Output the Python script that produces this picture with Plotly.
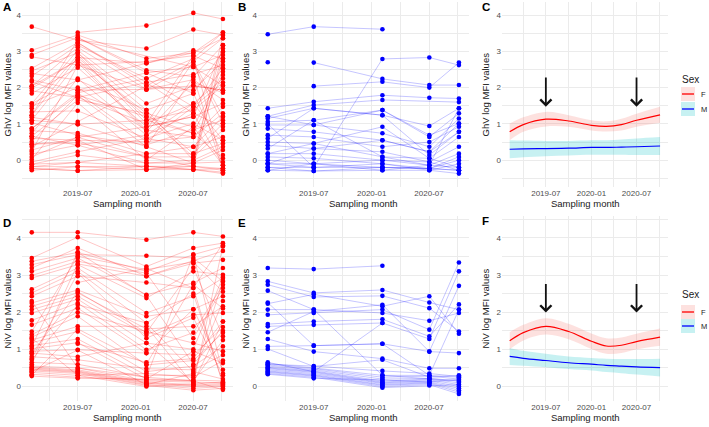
import plotly.graph_objects as go

# ---------------- data ----------------
sampling_dates = ['2019-02-05', '2019-07-01', '2020-02-04', '2020-07-02', '2020-10-04']
tick_vals = ['2019-07-01', '2020-01-01', '2020-07-01']
tick_text = ['2019-07', '2020-01', '2020-07']

# GhV, females (panel A): one row per individual, value at each sampling date
ghv_female = [
    [3.68, 3.31, 3.08, 3.60, 3.45], [None, 3.52, 3.71, 4.06, 3.89], [3.03, 3.45, 2.80, 2.96, 3.52],
    [2.90, 3.38, 2.48, 2.30, 3.17], [2.85, 2.62, 2.72, 2.88, 2.53], [2.53, 3.24, 2.05, 2.72, 3.36],
    [2.46, 2.96, 1.38, 1.84, 2.99], [2.39, 2.21, 2.67, 3.03, 2.80], [2.32, 3.17, 2.25, 1.47, 2.14],
    [2.21, 1.93, 2.41, 2.57, 2.90], [2.04, 3.11, 1.95, 2.22, 1.66], [1.98, 2.76, 1.29, 0.92, 2.44],
    [1.91, 1.73, 2.14, 2.37, 2.62], [1.84, 2.55, 0.92, 1.20, 3.08], [1.56, 3.03, 1.56, 2.05, 1.93],
    [1.49, 2.00, 0.83, 0.64, 1.29], [1.43, 2.90, 1.01, 1.56, 2.25], [1.33, 1.36, 0.60, 1.01, 0.55],
    [1.24, 2.83, 1.20, 0.74, 2.35], [1.18, 0.99, 1.10, 1.38, 2.05], [1.10, 2.69, 0.78, 2.14, 1.86],
    [1.03, 0.69, 0.42, 0.83, 1.10], [0.87, 1.86, 2.25, 2.80, 3.52], [0.81, 0.75, 0.18, 0.37, 1.20],
    [0.74, 2.25, 0.69, 1.29, 0.92], [0.66, 1.66, 1.29, 0.18, 0.46], [0.60, 0.55, 0.51, 0.64, 1.47],
    [0.51, 1.79, 0.37, -0.08, 0.28], [0.44, 0.48, 0.09, 0.09, 0.83], [0.37, 1.06, 2.05, 1.93, 2.72],
    [0.23, 2.62, 1.95, 2.64, 1.01], [0.17, 0.41, -0.08, 0.00, 0.37], [0.09, 0.63, 0.92, 1.20, 1.56],
    [0.02, 1.58, 0.00, 0.92, -0.14], [-0.05, 0.23, 0.60, 0.37, 0.64], [-0.11, -0.06, -0.17, -0.17, -0.23],
    [-0.18, -0.18, -0.17, -0.26, -0.33], [-0.23, -0.29, -0.26, -0.26, -0.37], [-0.28, -0.18, -0.26, -0.17, -0.28],
    [-0.11, 0.14, -0.08, -0.08, -0.05], [-0.23, -0.29, -0.17, -0.26, -0.23], [None, 3.38, 2.41, 1.84, 0.14],
    [None, 2.96, 1.10, 0.74, 0.05], [None, 2.83, 2.67, 2.96, 3.36], [None, 1.86, 0.51, 1.47, 2.53],
    [2.16, 1.73, 1.01, 2.88, -0.23], [1.10, 0.99, 0.37, 2.30, -0.28], [0.28, 0.63, 0.09, -0.17, 2.99],
    [0.87, 1.79, 1.20, 0.09, 3.17], [1.56, 2.21, 1.38, 0.00, 2.80], [0.44, 0.55, -0.26, -0.08, 3.45],
    [2.04, 2.76, 0.83, 2.72, 1.20], [None, 3.24, 2.14, 1.29, -0.14], [-0.18, -0.06, 0.18, 0.18, 1.01],
    [0.66, 0.41, 0.69, 1.56, 0.55], [1.24, 3.31, None, 2.57, 2.05], [None, 1.93, 1.95, 2.05, 1.93],
]

# GhV, males (panel B)
ghv_male = [
    [3.47, 3.68, 3.61, None, None], [2.70, None, None, None, None], [None, 2.69, 2.24, 2.07, 2.07],
    [1.00, -0.20, 2.79, 2.83, 2.62], [None, 2.04, 2.16, 2.00, 2.69], [1.43, 1.61, 1.79, 1.72, 1.70],
    [1.21, 1.52, 1.66, None, 1.60], [1.15, 1.43, 1.24, 0.94, 1.43], [1.06, 1.10, 1.38, 0.64, 1.29],
    [0.97, 0.97, 0.74, 0.37, 1.15], [0.87, 0.78, 0.55, 0.23, 1.01], [0.69, 0.64, 0.37, 0.50, 0.92],
    [0.60, 1.43, 1.24, 0.14, 0.78], [0.50, 0.46, 0.92, 0.05, 0.64], [0.41, 0.32, 0.23, -0.05, 0.37],
    [0.32, 1.10, 0.09, -0.14, 0.18], [0.18, 0.18, 0.00, -0.14, 1.43], [0.09, 0.05, -0.10, -0.23, 0.09],
    [0.00, -0.10, -0.20, -0.23, 0.00], [-0.10, -0.20, -0.10, -0.28, -0.10], [-0.20, -0.30, -0.28, -0.28, -0.37],
    [-0.28, -0.30, -0.20, -0.23, -0.28], [-0.10, -0.10, -0.28, -0.14, -0.20], [-0.20, -0.20, -0.20, -0.23, -0.28],
    [1.21, 0.97, 1.38, 0.69, 1.01], [-0.10, 0.32, 0.55, 0.23, 0.78], [0.18, 0.46, 0.09, 0.05, -0.20],
    [-0.28, -0.10, 0.00, -0.05, -0.28],
]

# NiV, females (panel D)
niv_female = [
    [4.15, 4.15, 3.95, 4.15, 4.04], [3.46, 4.02, 3.23, 3.73, 3.86], [3.37, 3.61, 3.10, 3.55, 3.77],
    [3.28, 3.55, 3.52, 3.46, 2.83], [3.19, 3.73, 2.97, 3.32, 3.41], [3.10, 3.46, 2.47, 2.79, 3.19],
    [2.99, 3.37, 3.05, 1.30, 2.65], [2.92, 3.28, 2.38, 3.10, 3.01], [2.62, 3.19, 1.98, 2.43, 2.92],
    [2.52, 3.10, 1.71, 0.40, 0.20], [2.43, 2.97, 2.80, 2.65, 0.05], [2.25, 2.60, 1.89, 2.08, 2.43],
    [2.16, 2.52, 1.55, 1.62, 2.16], [2.07, 2.43, 1.39, 1.93, 1.98], [1.98, 2.35, 1.17, 0.10, 1.75],
    [1.78, 2.25, 0.99, 1.45, 2.74], [1.66, 2.11, 0.90, 0.85, 1.60], [1.48, 3.50, 3.15, 3.35, 2.55],
    [1.40, 2.00, 1.48, 1.17, 0.95], [1.33, 1.89, 0.58, 0.70, 1.45], [1.25, 1.62, 1.62, 0.05, 3.80],
    [1.18, 1.48, 0.40, 0.55, 1.08], [1.10, 1.28, 0.30, 0.30, 2.85], [1.02, 1.18, 0.20, 0.95, 0.63],
    [0.95, 0.99, 0.90, 2.08, 0.45], [0.88, 2.55, 1.45, 3.20, 1.35], [0.80, 0.72, 0.48, 0.45, 0.85],
    [0.72, 2.20, 1.71, 2.50, 0.10], [0.65, 0.60, 0.25, 0.15, 1.25], [0.55, 0.50, 0.15, 0.12, 0.10],
    [0.52, 0.45, 0.12, 0.05, 0.08], [0.50, 0.42, 0.10, 0.02, 0.05], [0.47, 0.40, 0.08, 0.00, 0.02],
    [0.45, 0.38, 0.05, -0.05, 0.00], [0.42, 0.35, 0.03, -0.10, -0.05], [0.38, 0.30, 0.00, 0.08, 0.12],
    [0.33, 0.25, 0.18, 0.15, -0.09], [0.28, 0.22, 0.20, 0.18, 0.15], [0.60, 3.30, 2.97, 3.40, 3.65],
    [0.75, 3.05, 1.30, 1.85, 0.30], [1.08, 3.61, 2.45, 0.60, 1.50], [0.30, 1.55, 0.60, 2.75, 2.10],
    [0.90, 0.80, 1.17, 1.00, 2.95], [1.30, 0.30, 0.35, 0.25, 0.70], [None, 2.80, 3.18, 2.65, 3.85],
    [None, 1.15, 0.65, 0.75, 1.75], [2.30, 0.50, 0.25, 3.55, 0.35], [0.40, 0.98, 0.05, 0.35, 2.30],
]

# NiV, males (panel E)
niv_male = [
    [3.19, 3.16, 3.25, None, None], [2.83, 2.52, 2.60, 2.26, 2.07], [2.74, 2.41, 2.44, 2.11, 1.48],
    [2.58, 2.07, 0.30, 0.20, 0.15], [2.26, 1.10, 1.15, 0.94, 0.90], [2.23, 2.48, 2.16, 2.43, 1.42],
    [2.07, 2.07, 1.98, 1.77, 1.98], [1.93, 1.98, 2.07, 1.53, 3.34], [1.68, 1.75, 1.81, 1.35, 2.21],
    [1.62, 1.66, 1.71, 1.28, 3.10], [1.46, 2.02, 2.20, 0.94, 2.71], [1.28, 0.94, 0.75, 0.49, 0.49],
    [1.08, 1.10, 1.15, 0.30, 2.07], [1.01, 0.54, 0.72, 0.25, 0.30], [0.65, 0.40, 1.71, None, None],
    [0.62, 0.50, 0.30, 0.30, 0.25], [0.58, 0.48, 0.25, 0.28, 0.20], [0.55, 0.45, 0.20, 0.22, 0.15],
    [0.52, 0.42, 0.15, 0.20, 0.10], [0.50, 0.40, 0.12, 0.18, 0.05], [0.48, 0.38, 0.10, 0.15, 0.00],
    [0.45, 0.35, 0.08, 0.12, -0.05], [0.42, 0.32, 0.05, 0.10, -0.10], [0.40, 0.30, 0.03, 0.08, -0.15],
    [0.38, 0.28, 0.00, 0.05, -0.20], [0.35, 0.25, -0.03, 0.03, 0.05], [0.60, 0.55, 0.42, 0.35, 0.27],
    [0.33, 0.22, 0.18, 0.12, 0.20],
]

# smoothed trends (panels C and F)
fit_dates = ['2019-02-05', '2019-04-01', '2019-07-01', '2019-10-01', '2020-01-01',
             '2020-03-01', '2020-05-01', '2020-07-01', '2020-10-04']
ghv_fit_f = [0.78, 0.98, 1.13, 1.08, 0.96, 0.93, 0.98, 1.10, 1.25]
ghv_se_f = [0.23, 0.20, 0.20, 0.16, 0.14, 0.14, 0.16, 0.18, 0.22]
ghv_fit_m = [0.30, 0.31, 0.32, 0.33, 0.35, 0.35, 0.36, 0.37, 0.39]
ghv_se_m = [0.25, 0.23, 0.21, 0.20, 0.20, 0.20, 0.21, 0.23, 0.25]
niv_fit_f = [1.23, 1.45, 1.62, 1.48, 1.22, 1.09, 1.11, 1.21, 1.33]
niv_se_f = [0.23, 0.21, 0.22, 0.21, 0.21, 0.21, 0.21, 0.21, 0.23]
niv_fit_m = [0.81, 0.76, 0.70, 0.64, 0.60, 0.57, 0.55, 0.53, 0.51]
niv_se_m = [0.23, 0.20, 0.18, 0.17, 0.17, 0.18, 0.19, 0.21, 0.24]

arrow_dates = ['2019-07-01', '2020-07-01']

# ---------------- styling ----------------
W, H = 709, 427
FONT = 'Liberation Sans, Arial, sans-serif'
RED, BLUE = '#FF0000', '#0000FF'
RED_LINE, BLUE_LINE = 'rgba(255,0,0,0.33)', 'rgba(0,0,255,0.33)'
PINK_FILL, CYAN_FILL = 'rgba(248,118,109,0.22)', 'rgba(0,191,196,0.22)'
GRID = '#EBEBEB'

col_px = [(22, 233), (258, 469), (502, 668)]
row_px = [(2, 187), (216, 401)]
row_range = [[-0.74, 4.36], [-0.39, 4.59]]
x_range = ['2019-01-05', '2020-11-05']


def px_x(p):
    return p / W


def px_y(p):
    return 1 - p / H


fig = go.Figure()


def ax_name(i):
    return '' if i == 1 else str(i)


def build_lines(rows):
    xs, ys = [], []
    for r in rows:
        for d, v in zip(sampling_dates, r):
            if v is not None:
                xs.append(d)
                ys.append(v)
        xs.append(None)
        ys.append(None)
    return xs, ys


def build_points(rows):
    xs, ys = [], []
    for r in rows:
        for d, v in zip(sampling_dates, r):
            if v is not None:
                xs.append(d)
                ys.append(v)
    return xs, ys


panels = [(1, ghv_female, RED, RED_LINE), (2, ghv_male, BLUE, BLUE_LINE),
          (4, niv_female, RED, RED_LINE), (5, niv_male, BLUE, BLUE_LINE)]
for idx, rows, col, lcol in panels:
    lx, ly = build_lines(rows)
    fig.add_trace(go.Scatter(x=lx, y=ly, mode='lines', line=dict(color=lcol, width=0.7),
                             xaxis='x' + ax_name(idx), yaxis='y' + ax_name(idx),
                             showlegend=False, hoverinfo='skip', connectgaps=False))
    mx, my = build_points(rows)
    fig.add_trace(go.Scatter(x=mx, y=my, mode='markers', marker=dict(color=col, size=4.6, line=dict(width=0)),
                             xaxis='x' + ax_name(idx), yaxis='y' + ax_name(idx), showlegend=False))

fits = [(3, ghv_fit_f, ghv_se_f, ghv_fit_m, ghv_se_m), (6, niv_fit_f, niv_se_f, niv_fit_m, niv_se_m)]
for idx, ff, sf, fm, sm in fits:
    xa, ya = 'x' + ax_name(idx), 'y' + ax_name(idx)
    for fit, se, fill, lc in [(fm, sm, CYAN_FILL, BLUE), (ff, sf, PINK_FILL, RED)]:
        upper = [a + b for a, b in zip(fit, se)]
        lower = [a - b for a, b in zip(fit, se)]
        fig.add_trace(go.Scatter(x=fit_dates, y=upper, mode='lines', line=dict(width=0, shape='spline'),
                                 xaxis=xa, yaxis=ya, showlegend=False, hoverinfo='skip'))
        fig.add_trace(go.Scatter(x=fit_dates, y=lower, mode='lines', line=dict(width=0, shape='spline'),
                                 fill='tonexty', fillcolor=fill,
                                 xaxis=xa, yaxis=ya, showlegend=False, hoverinfo='skip'))
    for fit, lc in [(fm, BLUE), (ff, RED)]:
        fig.add_trace(go.Scatter(x=fit_dates, y=fit, mode='lines', line=dict(color=lc, width=1.2, shape='spline'),
                                 xaxis=xa, yaxis=ya, showlegend=False))

layout = dict(width=W, height=H, margin=dict(l=0, r=0, t=0, b=0),
              paper_bgcolor='white', plot_bgcolor='white', showlegend=False,
              font=dict(family=FONT, color='#000000'))

for r in range(2):
    for c in range(3):
        i = r * 3 + c + 1
        layout['xaxis' + ax_name(i)] = dict(
            domain=[px_x(col_px[c][0]), px_x(col_px[c][1])], anchor='y' + ax_name(i),
            type='date', range=x_range, tickmode='array', tickvals=tick_vals, ticktext=tick_text,
            showgrid=True, gridcolor=GRID, gridwidth=1, zeroline=False, showline=False, ticks='',
            tickfont=dict(size=8, color='#4D4D4D', family=FONT),
            minor=dict(tickmode='array', tickvals=['2019-04-01', '2019-10-01', '2020-04-01', '2020-10-01'],
                       showgrid=True, gridcolor=GRID, gridwidth=0.5, ticks=''),
        )
        layout['yaxis' + ax_name(i)] = dict(
            domain=[px_y(row_px[r][1]), px_y(row_px[r][0])], anchor='x' + ax_name(i),
            range=row_range[r], tickmode='linear', tick0=0, dtick=1,
            showgrid=True, gridcolor=GRID, gridwidth=1, zeroline=False, showline=False, ticks='',
            tickfont=dict(size=8, color='#4D4D4D', family=FONT),
            minor=dict(tickmode='linear', tick0=0.5, dtick=1, showgrid=True, gridcolor=GRID, gridwidth=0.5, ticks=''),
        )

annotations = []
tags = [('A', 6.5, 7), ('B', 242, 7), ('C', 486, 7), ('D', 6.5, 223), ('E', 242, 223), ('F', 485, 221)]
for t, x, y in tags:
    annotations.append(dict(text='<b>%s</b>' % t, x=px_x(x), y=px_y(y), xref='paper', yref='paper',
                            showarrow=False, xanchor='center', yanchor='middle',
                            font=dict(size=11.5, family=FONT, color='#000000')))

ytitles = ['GhV log MFI values', 'NiV log MFI values']
ytitle_x = [7, 245, 485]
xtitle_y = [203, 417]
for r in range(2):
    yc = (row_px[r][0] + row_px[r][1]) / 2
    for c in range(3):
        annotations.append(dict(text=ytitles[r], x=px_x(ytitle_x[c]), y=px_y(yc), xref='paper', yref='paper',
                                textangle=-90, showarrow=False, xanchor='center', yanchor='middle',
                                font=dict(size=9.5, family=FONT, color='#1A1A1A')))
        xc = (col_px[c][0] + col_px[c][1]) / 2
        annotations.append(dict(text='Sampling month', x=px_x(xc), y=px_y(xtitle_y[r]), xref='paper', yref='paper',
                                showarrow=False, xanchor='center', yanchor='middle',
                                font=dict(size=9.5, family=FONT, color='#1A1A1A')))

# arrows in panels C and F
arrow_spec = [(3, 1.47, 2.32), (6, 1.99, 2.80)]
for idx, tip, tail in arrow_spec:
    for d in arrow_dates:
        annotations.append(dict(x=d, y=tip, xref='x' + ax_name(idx), yref='y' + ax_name(idx),
                                ax=d, ay=tail, axref='x' + ax_name(idx), ayref='y' + ax_name(idx),
                                text='', showarrow=True, arrowhead=4, arrowsize=1.2, arrowwidth=1.8,
                                arrowcolor='#111111', standoff=0, startstandoff=0))

# manual legends ("Sex")
shapes = []
legend_rows = [(79, 94, 109), (294, 312, 326)]
for title_y, fy, my in legend_rows:
    annotations.append(dict(text='Sex', x=px_x(680), y=px_y(title_y), xref='paper', yref='paper',
                            showarrow=False, xanchor='left', yanchor='middle',
                            font=dict(size=10, family=FONT, color='#1A1A1A')))
    for cy, fill, lc, lab in [(fy, PINK_FILL, RED, 'F'), (my, CYAN_FILL, BLUE, 'M')]:
        shapes.append(dict(type='rect', xref='paper', yref='paper',
                           x0=px_x(681), x1=px_x(695), y0=px_y(cy - 7), y1=px_y(cy + 7),
                           fillcolor=fill, line=dict(width=0)))
        shapes.append(dict(type='line', xref='paper', yref='paper',
                           x0=px_x(682), x1=px_x(694), y0=px_y(cy), y1=px_y(cy),
                           line=dict(color=lc, width=1.3)))
        annotations.append(dict(text=lab, x=px_x(699), y=px_y(cy), xref='paper', yref='paper',
                                showarrow=False, xanchor='left', yanchor='middle',
                                font=dict(size=7.5, family=FONT, color='#1A1A1A')))

layout['annotations'] = annotations
layout['shapes'] = shapes
fig.update_layout(**layout)

fig.write_html('out.html', config={'displayModeBar': False},
               post_script="document.body.style.margin='0px';document.body.style.overflow='hidden';")
